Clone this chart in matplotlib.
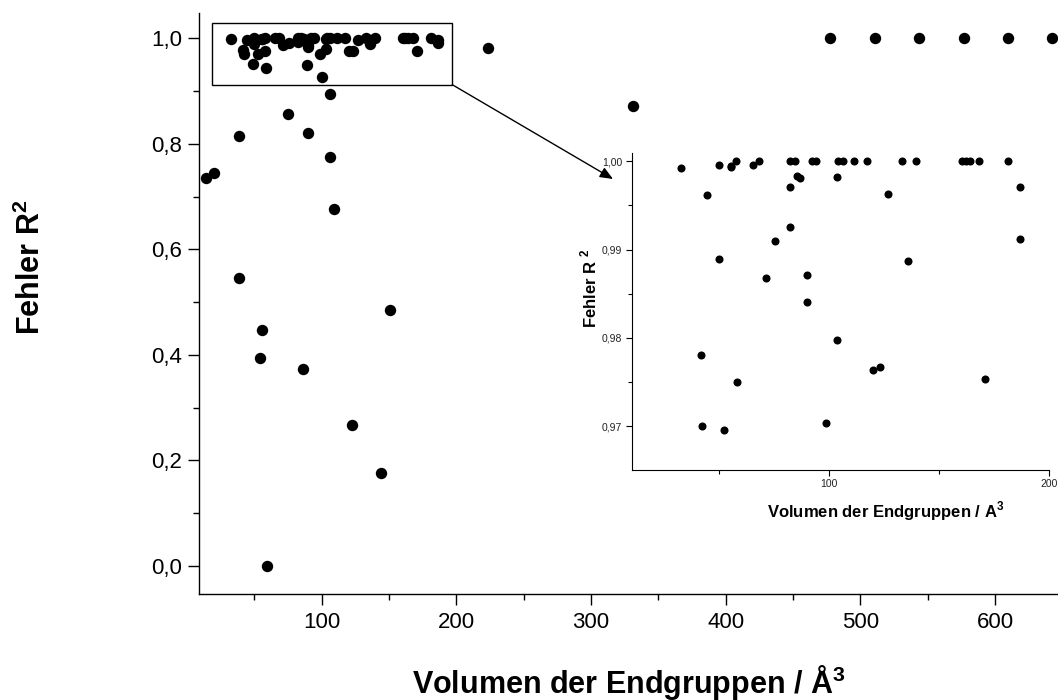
import matplotlib
matplotlib.use("Agg")
import matplotlib.pyplot as plt
from matplotlib.patches import Rectangle
from matplotlib.ticker import MultipleLocator, FixedLocator

# Endgruppen-Volumen (A^3) und Bestimmtheitsmass R^2
volume = [
    32.8, 44.5, 50.1, 49.9, 55.5, 55.5, 57.8, 65.6, 68.1, 71.5,
    75.6, 82.3, 84.4, 82.3, 82.3, 85.3, 87.0, 90.0, 90.0, 92.4,
    94.1, 103.5, 104.1, 106.4, 111.3, 117.1, 126.8, 133.3, 139.5, 135.9,
    160.2, 162.2, 164.0, 168.2, 181.1, 186.7, 186.7, 41.9, 42.4, 52.5,
    58.1, 98.8, 103.6, 120.0, 123.2, 170.7,
    48.8, 58.4, 88.9, 100.0, 106.2, 38.8, 75.0, 90.1, 106.2, 109.4,
    14.1, 20.3, 38.6, 55.9, 54.4, 86.1, 150.5, 122.3, 144.0, 59.6,
    223.5, 331.1, 477.4, 510.8, 543.5, 576.5, 609.3, 642.2,
]
r2 = [
    0.9992, 0.9962, 0.9996, 0.9889, 0.9995, 0.9993, 1.0000, 0.9996, 1.0000, 0.9868,
    0.9910, 1.0000, 1.0000, 0.9971, 0.9926, 0.9983, 0.9981, 0.9871, 0.9841, 1.0000,
    1.0000, 0.9982, 1.0000, 1.0000, 1.0000, 1.0000, 0.9963, 1.0000, 1.0000, 0.9887,
    1.0000, 1.0000, 1.0000, 1.0000, 1.0000, 0.9971, 0.9912, 0.9780, 0.9700, 0.9695,
    0.9750, 0.9703, 0.9797, 0.9764, 0.9767, 0.9753,
    0.952, 0.944, 0.950, 0.926, 0.895, 0.815, 0.856, 0.820, 0.775, 0.676,
    0.735, 0.744, 0.545, 0.448, 0.395, 0.373, 0.485, 0.268, 0.177, 0.000,
    0.981, 0.871, 1.0, 1.0, 1.0, 1.0, 1.0, 1.0,
]

main_xticks = [100, 200, 300, 400, 500, 600]
main_yticks = [0.0, 0.2, 0.4, 0.6, 0.8, 1.0]
main_ytick_labels = ["0,0", "0,2", "0,4", "0,6", "0,8", "1,0"]
inset_xticks = [100, 200]
inset_yticks = [0.97, 0.98, 0.99, 1.00]
inset_ytick_labels = ["0,97", "0,98", "0,99", "1,00"]

# Ausschnitt, der im Inset vergroessert wird
zoom_box = (18.8, 197.0, 0.912, 1.029)

plt.rcParams.update({
    "font.family": ["Liberation Sans", "DejaVu Sans"],
    "mathtext.fontset": "custom",
    "mathtext.rm": "Liberation Sans",
    "mathtext.bf": "Liberation Sans:bold",
    "xtick.direction": "out",
    "ytick.direction": "out",
})

fig = plt.figure(figsize=(10.58, 7.0), dpi=100)

# --- Hauptdiagramm ---
ax = fig.add_axes([0.1881, 0.1514, 0.8119, 0.8294])
ax.plot(volume, r2, "o", color="black", ms=8.2, mew=0, clip_on=False)
ax.set_xlim(9, 646.6)
ax.set_ylim(-0.053, 1.047)
for side in ("top", "right"):
    ax.spines[side].set_visible(False)
for side in ("left", "bottom"):
    ax.spines[side].set_linewidth(1.0)

ax.set_xticks(main_xticks)
ax.xaxis.set_minor_locator(MultipleLocator(50))
ax.set_yticks(main_yticks, main_ytick_labels)
ax.yaxis.set_minor_locator(MultipleLocator(0.1))
ax.tick_params(which="major", length=7.9, width=1.0, labelsize=16)
ax.tick_params(which="minor", length=4.5, width=1.0)
ax.tick_params(axis="x", which="major", pad=5)
ax.tick_params(axis="y", which="major", pad=4)

ax.set_xlabel(r"Volumen der Endgruppen / Å$^\mathbf{3}$", fontsize=22,
              fontweight="bold", va="baseline")
ax.xaxis.set_label_coords(0.5, -0.1705)
ax.set_ylabel(r"Fehler R$^\mathbf{2}$", fontsize=22, fontweight="bold", va="center")
ax.yaxis.set_label_coords(-0.1956, 0.563)

x0, x1, y0, y1 = zoom_box
ax.add_patch(Rectangle((x0, y0), x1 - x0, y1 - y0, fill=False, ec="black", lw=1.0))

# --- Inset ---
ax_in = fig.add_axes([0.5971, 0.329, 0.3947, 0.4529])
ax_in.plot(volume, r2, "o", color="black", ms=5.8, mew=0)
ax_in.set_xlim(10.4, 200)
ax_in.set_ylim(0.96505, 1.00098)
for side in ("top", "right"):
    ax_in.spines[side].set_visible(False)
for side in ("left", "bottom"):
    ax_in.spines[side].set_linewidth(0.8)

ax_in.set_xticks(inset_xticks)
ax_in.xaxis.set_minor_locator(FixedLocator([50, 150]))
ax_in.set_yticks(inset_yticks, inset_ytick_labels)
ax_in.yaxis.set_minor_locator(FixedLocator([0.965, 0.975, 0.985, 0.995]))
ax_in.tick_params(which="major", length=4.0, width=0.8, labelsize=7.5,
                  labelcolor="#222222", pad=3)
ax_in.tick_params(which="minor", length=2.6, width=0.8)

ax_in.set_xlabel(r"Volumen der Endgruppen / A$^\mathbf{3}$", fontsize=12,
                 fontweight="bold", va="baseline")
ax_in.xaxis.set_label_coords(0.607, -0.152)
ax_in.set_ylabel(r"Fehler R $^\mathbf{2}$", fontsize=12, fontweight="bold", va="center")
ax_in.yaxis.set_label_coords(-0.102, 0.573)

ax_in.annotate(
    "",
    xy=(-0.0448, 0.917), xycoords="axes fraction",
    xytext=(x1, y0), textcoords=ax.transData,
    arrowprops=dict(arrowstyle="-|>,head_length=0.6,head_width=0.25",
                    color="black", lw=1.0, mutation_scale=13,
                    shrinkA=0, shrinkB=0),
    annotation_clip=False,
)

fig.savefig("out.png", dpi=100)
plt.close(fig)
